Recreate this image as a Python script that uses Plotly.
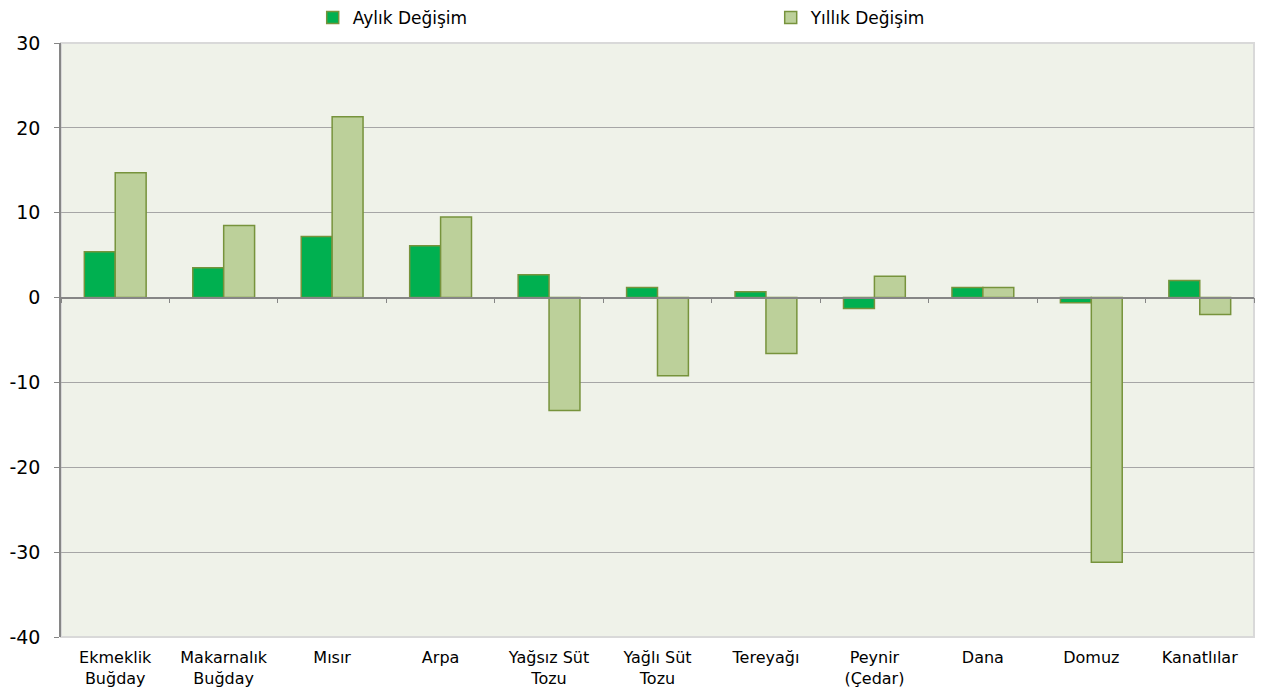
import plotly.graph_objects as go

categories = ["Ekmeklik<br>Buğday", "Makarnalık<br>Buğday", "Mısır", "Arpa",
              "Yağsız Süt<br>Tozu", "Yağlı Süt<br>Tozu", "Tereyağı", "Peynir<br>(Çedar)",
              "Dana", "Domuz", "Kanatlılar"]
aylik = [5.4, 3.5, 7.2, 6.1, 2.7, 1.2, 0.7, -1.3, 1.2, -0.6, 2.0]
yillik = [14.7, 8.5, 21.3, 9.5, -13.3, -9.2, -6.6, 2.5, 1.2, -31.2, -2.0]
y_ticks = [-40, -30, -20, -10, 0, 10, 20, 30]
y_ticktext = ["-40", "-30", "-20", "-10", "0", "10", "20", "30"]

FONT = "DejaVu Sans"
EDGE = "#77933c"

fig = go.Figure()
fig.add_trace(go.Bar(x=categories, y=aylik, name="Aylık Değişim",
                     marker=dict(color="#00b050", line=dict(color=EDGE, width=1.5))))
fig.add_trace(go.Bar(x=categories, y=yillik, name="Yıllık Değişim",
                     marker=dict(color="#bcd09a", line=dict(color=EDGE, width=1.5))))

ymin, ymax = -40, 30
zero_pos = (0 - ymin) / (ymax - ymin)

fig.update_layout(
    width=1266, height=697,
    margin=dict(l=61, r=12, t=43, b=60, autoexpand=False),
    paper_bgcolor="white",
    plot_bgcolor="#eff2e9",
    barmode="group", bargap=0.43, bargroupgap=0,
    font=dict(family=FONT, color="black"),
    showlegend=True,
    legend=dict(orientation="h", xref="container", yref="container",
                x=0.247, y=1.0, xanchor="left", yanchor="top",
                entrywidth=413, entrywidthmode="pixels",
                font=dict(size=17, family=FONT), itemwidth=30,
                bgcolor="rgba(0,0,0,0)"),
    xaxis=dict(type="category", categoryorder="array", categoryarray=categories,
               showgrid=False, showline=False, zeroline=False,
               ticks="outside", ticklen=6, tickcolor="rgba(0,0,0,0)",
               tickfont=dict(size=16, family=FONT)),
    xaxis2=dict(type="linear", overlaying="x", anchor="free", position=zero_pos,
                range=[-0.5, len(categories) - 0.5],
                tick0=0.5, dtick=1, ticks="outside", ticklen=5, tickcolor="#868686",
                showticklabels=False, showgrid=False, zeroline=False,
                showline=True, linecolor="#868686", linewidth=1.5),
    yaxis=dict(range=[ymin, ymax], tickvals=y_ticks, ticktext=y_ticktext, showgrid=True,
               gridcolor="#a6a6a6", gridwidth=1, zeroline=False,
               showline=True, linecolor="#868686", linewidth=1.5,
               ticks="outside", ticklen=5, tickcolor="#868686",
               ticklabelstandoff=10,
               tickfont=dict(size=19, family=FONT)),
    shapes=[dict(type="rect", xref="paper", yref="paper", x0=0, x1=1, y0=0, y1=1,
                 line=dict(color="#d9d9d9", width=2), layer="below")],
)
# ensure xaxis2 renders
fig.add_trace(go.Scatter(x=[0], y=[0], xaxis="x2", mode="markers",
                         marker=dict(opacity=0), showlegend=False, hoverinfo="skip"))

fig.write_html("out.html", config={"displayModeBar": False},
               post_script="document.body.style.margin='0';document.body.style.overflow='hidden';")
